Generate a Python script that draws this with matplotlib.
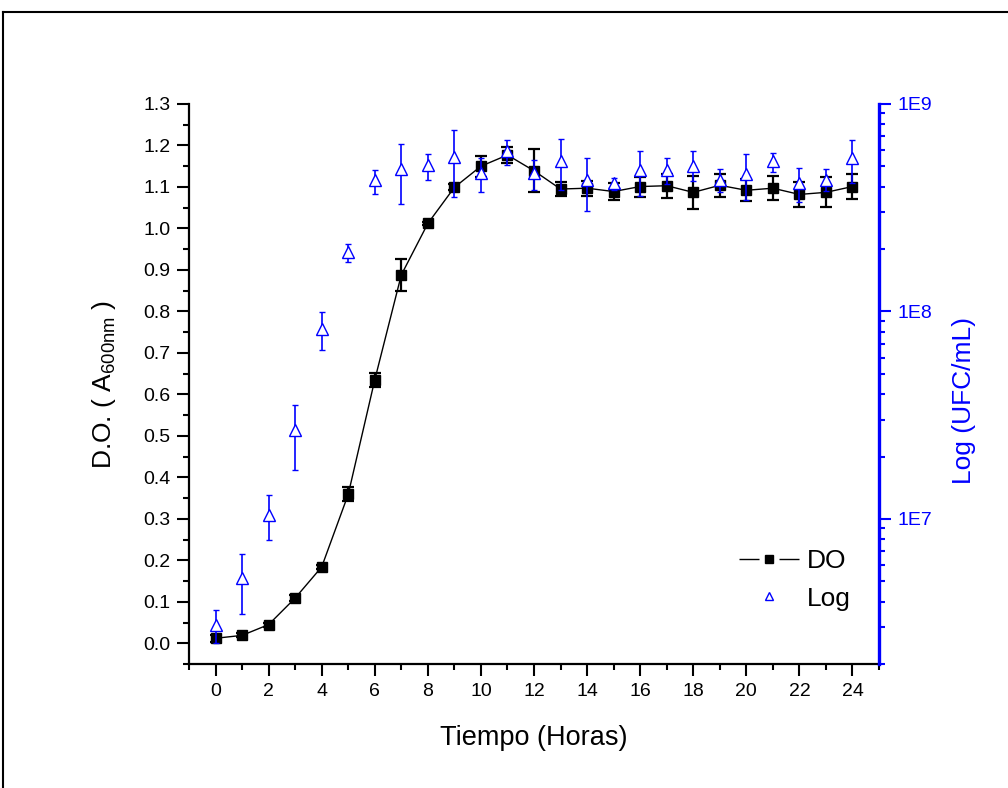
import matplotlib.pyplot as plt
from matplotlib.lines import Line2D
from matplotlib.ticker import MultipleLocator, LogLocator, NullFormatter, FixedFormatter, FixedLocator
import numpy as np

plt.rcParams['font.family'] = ['Liberation Sans', 'DejaVu Sans']
plt.rcParams['mathtext.default'] = 'regular'

# Time (hours)
hours = list(range(25))

# Optical density (A600nm) mean and error
do_mean = [0.012, 0.019, 0.045, 0.109, 0.184, 0.359, 0.635, 0.888, 1.012, 1.099,
           1.150, 1.177, 1.139, 1.095, 1.097, 1.089, 1.101, 1.103, 1.087, 1.104,
           1.092, 1.097, 1.082, 1.087, 1.101]
do_err = [0.008, 0.005, 0.005, 0.008, 0.005, 0.017, 0.017, 0.038, 0.004, 0.007,
          0.025, 0.019, 0.052, 0.017, 0.018, 0.020, 0.024, 0.029, 0.039, 0.027,
          0.027, 0.029, 0.030, 0.036, 0.031]

# Viable counts (UFC/mL): mean, lower bound, upper bound
ufc_mean = [3.1e6, 5.22e6, 1.05e7, 2.67e7, 8.2e7, 1.94e8, 4.31e8, 4.88e8, 5.07e8, 5.55e8,
            4.65e8, 5.96e8, 4.65e8, 5.32e8, 4.30e8, 4.14e8, 4.80e8, 4.80e8, 5.00e8, 4.31e8,
            4.62e8, 5.32e8, 4.14e8, 4.31e8, 5.52e8]
ufc_low = [2.52e6, 3.5e6, 7.9e6, 1.73e7, 6.5e7, 1.73e8, 3.7e8, 3.28e8, 4.3e8, 3.55e8,
           3.76e8, 5.08e8, 3.87e8, 3.85e8, 3.05e8, 3.87e8, 3.62e8, 4.12e8, 4.25e8, 3.76e8,
           3.44e8, 4.68e8, 3.37e8, 3.80e8, 4.14e8]
ufc_high = [3.66e6, 6.81e6, 1.31e7, 3.56e7, 9.9e7, 2.12e8, 4.83e8, 6.44e8, 5.74e8, 7.5e8,
            5.5e8, 6.71e8, 5.36e8, 6.76e8, 5.5e8, 4.39e8, 5.92e8, 5.5e8, 5.92e8, 4.85e8,
            5.77e8, 5.83e8, 4.89e8, 4.85e8, 6.73e8]

fig = plt.figure(figsize=(10.08, 7.88), dpi=100)
ax = fig.add_axes([189 / 1008, 1 - 664 / 788, (879 - 189) / 1008, (664 - 104) / 788])

# outer frame (cut off at right/bottom like the source image)
fig.add_artist(Line2D([3 / 1008, 3 / 1008], [0, 1 - 12 / 788], color='black', lw=1.5,
                      transform=fig.transFigure))
fig.add_artist(Line2D([3 / 1008, 1], [1 - 12 / 788, 1 - 12 / 788], color='black', lw=1.5,
                      transform=fig.transFigure))

ax.errorbar(hours, do_mean, yerr=do_err, color='black', lw=1.0, marker='s', ms=6.5,
            elinewidth=1.6, capsize=4.5, capthick=1.6, zorder=3)
ax.set_xlim(-1, 25)
ax.set_ylim(-0.05, 1.3)
ax.xaxis.set_major_locator(MultipleLocator(2))
ax.xaxis.set_minor_locator(MultipleLocator(1))
ax.yaxis.set_major_locator(MultipleLocator(0.1))
ax.yaxis.set_minor_locator(MultipleLocator(0.05))
ax.yaxis.set_major_formatter(plt.FuncFormatter(lambda v, p: f'{v:.1f}'))
ax.tick_params(axis='both', which='major', direction='out', length=8.5, width=1.5,
               labelsize=14, pad=5)
ax.tick_params(axis='both', which='minor', direction='out', length=4.5, width=1.5)
ax.spines['top'].set_visible(False)
ax.spines['right'].set_visible(False)
ax.spines['left'].set_linewidth(1.6)
ax.spines['bottom'].set_linewidth(1.6)
ax.set_xlabel('Tiempo (Horas)', fontsize=19.5, labelpad=18)
ax.set_ylabel('D.O. ( A$_{600nm}$ )', fontsize=19, labelpad=18)

ax2 = ax.twinx()
ufc_err = [np.array(ufc_mean) - np.array(ufc_low), np.array(ufc_high) - np.array(ufc_mean)]
ax2.errorbar(hours, ufc_mean, yerr=ufc_err, color='blue', ls='none', marker='^', ms=8,
             mfc='white', mec='blue', mew=1.0, elinewidth=1.2, capsize=2.5, capthick=1.2)
ax2.set_yscale('log')
ax2.set_ylim(2e6, 1e9)
ax2.set_xlim(-1, 25)
ax2.yaxis.set_major_locator(FixedLocator([1e7, 1e8, 1e9]))
ax2.yaxis.set_major_formatter(FixedFormatter(['1E7', '1E8', '1E9']))
ax2.yaxis.set_minor_locator(LogLocator(base=10, subs=np.arange(2, 10)))
ax2.yaxis.set_minor_formatter(NullFormatter())
ax2.tick_params(axis='y', which='major', direction='out', length=8.5, width=1.5,
                labelsize=14, colors='blue', pad=5)
ax2.tick_params(axis='y', which='minor', direction='out', length=4.5, width=1.5, colors='blue')
for s in ['top', 'left', 'bottom']:
    ax2.spines[s].set_visible(False)
ax2.spines['right'].set_color('blue')
ax2.spines['right'].set_linewidth(2.4)
ax2.set_ylabel('Log (UFC/mL)', fontsize=19, color='blue', labelpad=14)
ax2.yaxis.label.set_y(0.47)

handles = [Line2D([], [], color='black', lw=1.0, ls=(0, (14.4, 14.4, 14.4, 100)),
                  marker='s', ms=6),
           Line2D([], [], color='blue', ls='none', marker='^', ms=6, mfc='white', mec='blue', mew=1.0)]
ax2.legend(handles, ['DO', 'Log'], loc='upper left', bbox_to_anchor=(739 / 1008, 1 - 549 / 788),
           bbox_transform=fig.transFigure, frameon=False, fontsize=19, numpoints=1,
           borderaxespad=0, borderpad=0, handlelength=2.27, handletextpad=0.3, labelspacing=0.52)

fig.savefig('out.png', dpi=100)
